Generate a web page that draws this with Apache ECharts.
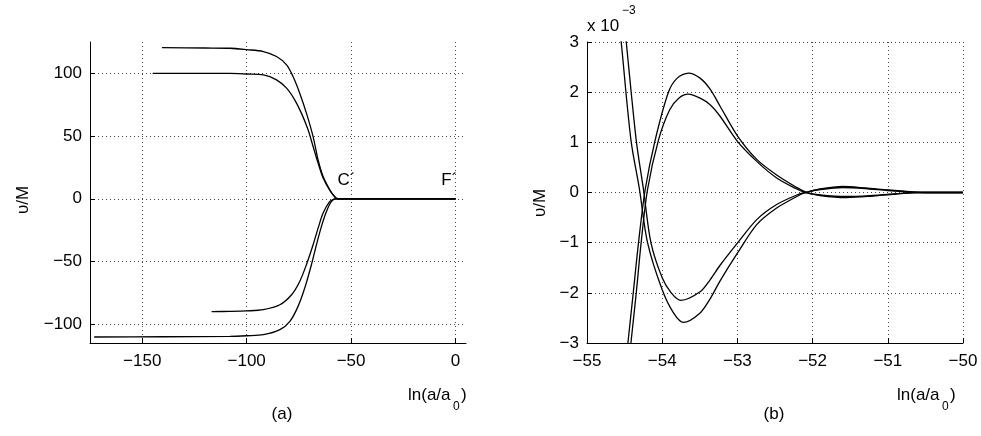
<!DOCTYPE html>
<html>
<head>
<meta charset="utf-8">
<script src="https://cdn.jsdelivr.net/npm/echarts@6/dist/echarts.min.js"></script>
<style>
  html, body { margin: 0; padding: 0; background: #fff; }
  #chart { width: 981px; height: 436px; }
</style>
</head>
<body>
<div id="chart"></div>
<script>
// panel (a): ln(a/a0) vs v/M, four runs
const leftX120 = [-140.5, -120, -108, -100, -92, -85.7, -80.9, -77.8, -74.6, -71.4, -68.2, -65.8, -63.4, -60.2, -58, -56.5, 0];
const leftY120 = [120.5, 120.2, 120, 118.9, 117.4, 113.4, 106.8, 97.5, 84.2, 68.3, 49.6, 31, 17.8, 7.2, 2, 0, 0];

const leftX100 = [-145, -120, -108, -100, -92, -85.7, -80.9, -77, -73.8, -70.6, -68.2, -65.8, -63.4, -60.2, -58, -56.5, 0];
const leftY100 = [100, 100, 100, 99.5, 98.8, 94.8, 88.2, 78.9, 68.3, 55, 41.7, 28.4, 16.5, 6.6, 1.8, 0, 0];

const leftXm90 = [-116.8, -108, -100, -92, -84.1, -78.5, -74.6, -71.4, -68.2, -65.8, -63.4, -60.2, -58, -56.5, 0];
const leftYm90 = [-90, -89.8, -89.4, -88.4, -84.5, -76.5, -65.9, -52.6, -36.7, -23.4, -11.4, -2.1, -0.3, 0, 0];

const leftXm110 = [-173, -140, -108, -100, -92, -84.1, -79.3, -75.4, -72.2, -69, -66.6, -64.2, -61.8, -59.4, -57.5, 0];
const leftYm110 = [-110.2, -110, -109.7, -109.2, -108.4, -104.4, -97.8, -85.8, -71.2, -52.6, -36.7, -22, -10.1, -2.1, 0, 0];

const leftTicksX = [-150, -100, -50, 0];
const leftTicksY = [-100, -50, 0, 50, 100];

const marks = ['C\u00b4', 'F\u00b4'];
const marksX = [-52.2, -3.0];
const marksY = [15, 15];

// panel (b): zoom near ln(a/a0) = -55..-50, v/M in units of 1e-3
const rightXA1 = [-54.47, -54.456, -54.385, -54.315, -54.226, -54.093, -53.917, -53.8, -53.651, -53.496, -53.363, -53.23, -53.0, -52.743, -52.478, -52.21, -52.08, -51.9, -51.55, -51.2, -50.9, -50.6, -50];
const rightYA1 = [-3.2, -3.0, -2.0, -1.0, 0.06, 1.05, 2.0, 2.28, 2.38, 2.28, 2.06, 1.72, 1.13, 0.66, 0.35, 0.1, 0, -0.06, -0.1, -0.07, -0.03, 0, 0];

const rightXA2 = [-54.43, -54.416, -54.345, -54.28, -54.195, -54.049, -53.9, -53.78, -53.651, -53.496, -53.363, -53.23, -53.0, -52.743, -52.478, -52.21, -52.1, -51.9, -51.55, -51.2, -50.9, -50.6, -50];
const rightYA2 = [-3.2, -3.0, -2.0, -1.0, 0.06, 1.05, 1.65, 1.88, 1.96, 1.88, 1.75, 1.52, 1.02, 0.62, 0.29, 0.07, 0, -0.05, -0.08, -0.06, -0.03, 0, 0];

const rightXD1 = [-54.56, -54.545, -54.416, -54.302, -54.195, -54.0, -53.85, -53.718, -53.496, -53.363, -53.23, -53.0, -52.743, -52.478, -52.21, -52.09, -51.9, -51.6, -51.3, -51.0, -50.7, -50.5, -50];
const rightYD1 = [3.2, 3.0, 1.05, 0.06, -1.0, -1.94, -2.4, -2.59, -2.4, -2.12, -1.76, -1.21, -0.64, -0.31, -0.08, 0, 0.07, 0.12, 0.09, 0.05, 0.015, 0, 0];

const rightXD2 = [-54.49, -54.478, -54.346, -54.249, -54.15, -54.0, -53.88, -53.752, -53.496, -53.363, -53.23, -53.0, -52.743, -52.478, -52.21, -52.1, -51.9, -51.6, -51.3, -51.0, -50.7, -50.5, -50];
const rightYD2 = [3.2, 3.0, 1.05, 0.06, -1.0, -1.7, -2.0, -2.15, -1.98, -1.74, -1.45, -1.01, -0.54, -0.24, -0.05, 0, 0.06, 0.1, 0.08, 0.04, 0.01, 0, 0];

const zip = (xs, ys) => xs.map((x, i) => [x, ys[i]]);
const minus = v => String(v).replace('-', '\u2212');

const FONT = 'Liberation Sans, Arial, Helvetica, sans-serif';
const axisText = { color: '#000', fontSize: 17, fontFamily: FONT };
const dotted = { show: true, lineStyle: { color: '#444', type: [1, 3], width: 1 } };
const blackAxis = { show: true, onZero: false, lineStyle: { color: '#000', width: 1 } };

function curve(xIdx, xs, ys) {
    return {
        type: 'line',
        xAxisIndex: xIdx,
        yAxisIndex: xIdx,
        data: zip(xs, ys),
        showSymbol: false,
        smooth: 0.3,
        lineStyle: { color: '#000', width: 1.3 },
        silent: true,
        animation: false
    };
}

const chart = echarts.init(document.getElementById('chart'));

let option = {
    backgroundColor: '#fff',
    animation: false,
    grid: [
        { left: 90, top: 42, width: 376, height: 301 },
        { left: 587, top: 42, width: 376, height: 301 }
    ],
    xAxis: [
        {
            type: 'value', gridIndex: 0, min: -175, max: 5,
            axisLine: blackAxis,
            axisTick: { inside: true, length: 5, lineStyle: { color: '#000' }, customValues: leftTicksX },
            axisLabel: Object.assign({ margin: 10, formatter: minus, customValues: leftTicksX }, axisText),
            splitLine: dotted
        },
        {
            type: 'value', gridIndex: 1, min: -55, max: -50, interval: 1,
            axisLine: blackAxis,
            axisTick: { inside: true, length: 5, lineStyle: { color: '#000' } },
            axisLabel: Object.assign({ margin: 10, formatter: minus }, axisText),
            splitLine: dotted
        }
    ],
    yAxis: [
        {
            type: 'value', gridIndex: 0, min: -115, max: 125,
            axisLine: blackAxis,
            axisTick: { inside: true, length: 5, lineStyle: { color: '#000' }, customValues: leftTicksY },
            axisLabel: Object.assign({ margin: 8, formatter: minus, customValues: leftTicksY }, axisText),
            splitLine: dotted
        },
        {
            type: 'value', gridIndex: 1, min: -3, max: 3, interval: 1,
            axisLine: blackAxis,
            axisTick: { inside: true, length: 5, lineStyle: { color: '#000' } },
            axisLabel: Object.assign({ margin: 8, formatter: minus }, axisText),
            splitLine: dotted
        }
    ],
    series: [
        curve(0, leftX120, leftY120),
        curve(0, leftX100, leftY100),
        curve(0, leftXm90, leftYm90),
        curve(0, leftXm110, leftYm110),
        curve(1, rightXA1, rightYA1),
        curve(1, rightXA2, rightYA2),
        curve(1, rightXD1, rightYD1),
        curve(1, rightXD2, rightYD2),
        {
            type: 'scatter',
            xAxisIndex: 0,
            yAxisIndex: 0,
            symbolSize: 1,
            itemStyle: { color: 'transparent' },
            data: marks.map((m, i) => ({ name: m, value: [marksX[i], marksY[i]] })),
            label: {
                show: true,
                position: 'inside',
                formatter: p => p.name,
                color: '#000',
                textBorderWidth: 0,
                opacity: 1,
                fontSize: 17,
                fontFamily: FONT
            },
            silent: true
        }
    ],
    graphic: [
        // axis names, panel (a)
        { type: 'text', x: 23, y: 200, rotation: Math.PI / 2,
          style: { text: '\u03c5/M', fill: '#000', font: '17px ' + FONT, align: 'center', verticalAlign: 'middle' } },
        { type: 'text', x: 408, y: 395,
          style: { text: 'ln(a/a', fill: '#000', font: '17px ' + FONT, align: 'left', verticalAlign: 'middle' } },
        { type: 'text', x: 453, y: 407,
          style: { text: '0', fill: '#000', font: '12px ' + FONT, align: 'left', verticalAlign: 'middle' } },
        { type: 'text', x: 461, y: 395,
          style: { text: ')', fill: '#000', font: '17px ' + FONT, align: 'left', verticalAlign: 'middle' } },
        { type: 'text', x: 282, y: 414,
          style: { text: '(a)', fill: '#000', font: '17px ' + FONT, align: 'center', verticalAlign: 'middle' } },
        // axis names, panel (b)
        { type: 'text', x: 540, y: 203, rotation: Math.PI / 2,
          style: { text: '\u03c5/M', fill: '#000', font: '17px ' + FONT, align: 'center', verticalAlign: 'middle' } },
        { type: 'text', x: 897, y: 395,
          style: { text: 'ln(a/a', fill: '#000', font: '17px ' + FONT, align: 'left', verticalAlign: 'middle' } },
        { type: 'text', x: 942, y: 407,
          style: { text: '0', fill: '#000', font: '12px ' + FONT, align: 'left', verticalAlign: 'middle' } },
        { type: 'text', x: 950, y: 395,
          style: { text: ')', fill: '#000', font: '17px ' + FONT, align: 'left', verticalAlign: 'middle' } },
        { type: 'text', x: 774, y: 414,
          style: { text: '(b)', fill: '#000', font: '17px ' + FONT, align: 'center', verticalAlign: 'middle' } },
        // exponent
        { type: 'text', x: 587, y: 26,
          style: { text: 'x 10', fill: '#000', font: '17px ' + FONT, align: 'left', verticalAlign: 'middle' } },
        { type: 'text', x: 622, y: 11,
          style: { text: '\u22123', fill: '#000', font: '12px ' + FONT, align: 'left', verticalAlign: 'middle' } }
    ]
};

if (chart) {
    chart.setOption(option);
}
</script>
</body>
</html>
